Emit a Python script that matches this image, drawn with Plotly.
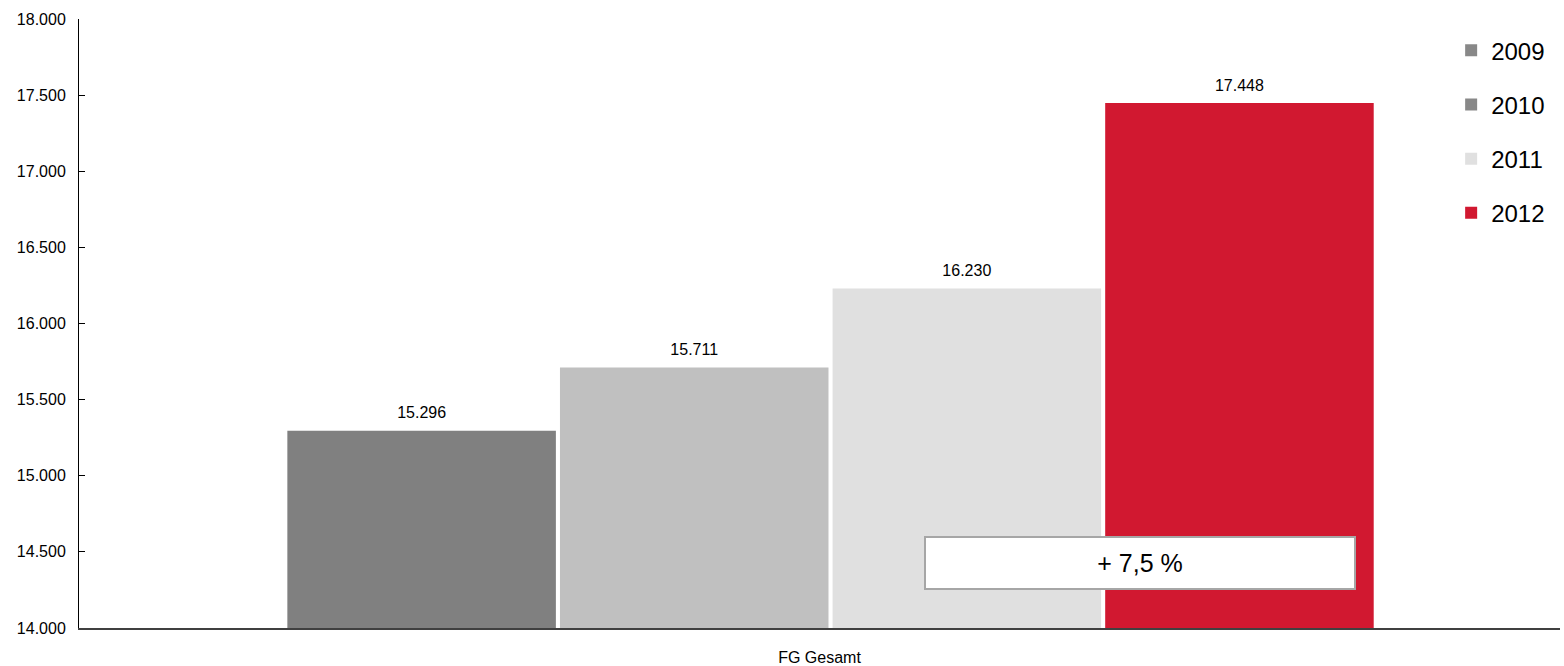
import plotly.graph_objects as go

# Data
category = ["FG Gesamt"]
years = ["2009", "2010", "2011", "2012"]
values = [15296, 15711, 16230, 17448]
bar_colors = ["#808080", "#C0C0C0", "#E0E0E0", "#D11830"]
legend_colors = ["#888888", "#888888", "#E0E0E0", "#D11830"]
y_ticks = [14000, 14500, 15000, 15500, 16000, 16500, 17000, 17500, 18000]

growth = (values[-1] / values[-2] - 1) * 100
growth_label = "+ " + f"{growth:.1f}".replace(".", ",") + " %"

FONT = "Liberation Sans, Arial"

fig = go.Figure()

for yr, v, c in zip(years, values, bar_colors):
    fig.add_trace(go.Bar(
        x=category, y=[v], name=yr, offsetgroup=yr,
        marker=dict(color=c, line=dict(width=0)),
        showlegend=False, hoverinfo="skip",
    ))

# value labels above each bar (grouped the same way as the bars)
for yr, v in zip(years, values):
    fig.add_trace(go.Scatter(
        x=category, y=[v], offsetgroup=yr, mode="markers+text",
        text=[f"{v:,}".replace(",", ".")], textposition="top center",
        textfont=dict(size=16, color="#000000", family=FONT),
        marker=dict(size=12, opacity=0), cliponaxis=False,
        showlegend=False, hoverinfo="skip",
    ))

# legend entries with square swatches (on a hidden overlay axis)
for yr, c in zip(years, legend_colors):
    fig.add_trace(go.Scatter(
        x=[None], y=[None], mode="markers", name=yr, legendgroup=yr,
        marker=dict(symbol="square", size=10, color=c),
        xaxis="x2", yaxis="y2",
    ))

fig.add_annotation(
    x=0.7165, xref="paper", xanchor="center", y=14424, yref="y", yanchor="middle",
    text=growth_label, showarrow=False,
    font=dict(size=25, color="#000000", family=FONT),
    bgcolor="#FFFFFF", bordercolor="#A6A6A6", borderwidth=2,
    width=426, height=48, align="center",
)

fig.update_layout(
    width=1564, height=666,
    margin=dict(l=79, r=4, t=19, b=38),
    paper_bgcolor="#FFFFFF", plot_bgcolor="#FFFFFF",
    barmode="group", bargap=0.2735, bargroupgap=0.015,
    scattermode="group", scattergap=0.2735,
    separators=",.",
    font=dict(family=FONT, color="#000000"),
    legend=dict(
        x=0.9265, xanchor="left", y=0.985, yanchor="top",
        font=dict(size=24, color="#000000"),
        traceorder="grouped", tracegroupgap=20,
        itemsizing="constant", bgcolor="rgba(0,0,0,0)",
    ),
    xaxis=dict(
        range=[-0.5007, 0.4860],
        showline=True, linecolor="#404040", linewidth=2,
        ticks="", showgrid=False, showticklabels=False,
        title=dict(text="FG Gesamt", font=dict(size=16, color="#000000"), standoff=23),
    ),
    yaxis=dict(
        range=[14000, 18000], tickvals=y_ticks, tickformat=",d",
        showline=True, linecolor="#000000", linewidth=1,
        ticks="inside", ticklen=6, tickcolor="#000000",
        showgrid=False, zeroline=False,
        tickfont=dict(size=16, color="#000000"),
        ticklabelstandoff=9,
    ),
    xaxis2=dict(overlaying="x", visible=False),
    yaxis2=dict(overlaying="y", visible=False),
)

fig.write_html("out.html")
